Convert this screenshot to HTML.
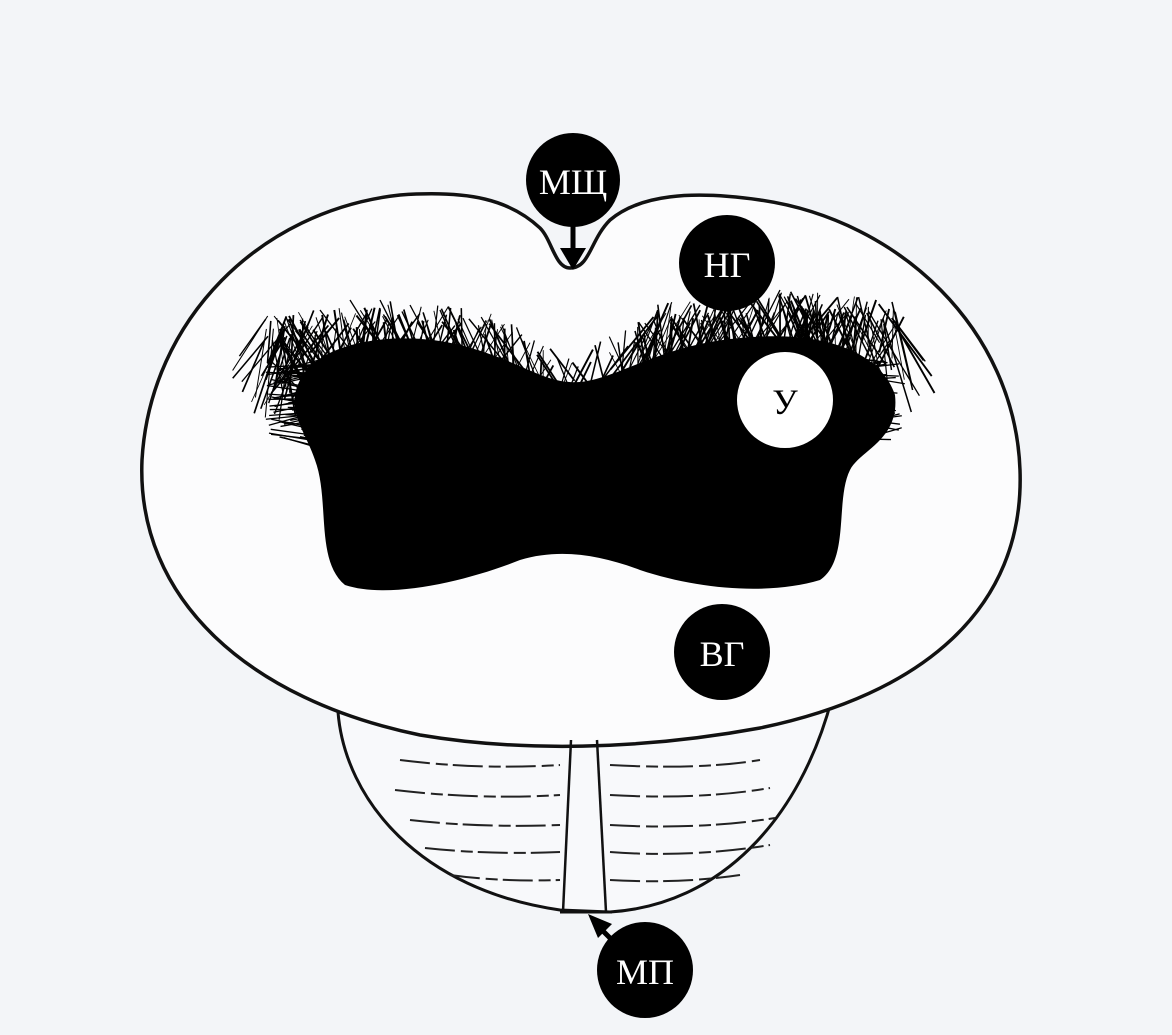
<!DOCTYPE html>
<html><head><meta charset="utf-8"><style>
html,body{margin:0;padding:0;background:#f3f5f8;}
svg{display:block}
text{font-family:"Liberation Serif",serif;}
</style></head><body>
<svg id="s" width="1172" height="1035" viewBox="0 0 1172 1035" xmlns="http://www.w3.org/2000/svg">
<rect width="1172" height="1035" fill="#f3f5f8"/>
<path d="M338 712 C345 800 420 890 560 910 L610 912 C720 905 800 820 832 698" fill="#f8f9fb" stroke="#111" stroke-width="3"/>
<line x1="560" y1="912" x2="612" y2="912" stroke="#111" stroke-width="3"/>
<path d="M540 228 C510 200 470 190 400 195 C260 210 150 320 142 460 C136 600 250 700 420 735 C520 752 640 750 760 728 C920 695 1025 610 1020 470 C1015 330 900 220 760 200 C690 190 640 195 610 220 C590 240 590 268 570 268 C555 268 552 240 540 228 Z" fill="#fcfcfd" stroke="#111" stroke-width="3.5"/>
<line x1="571" y1="740" x2="563" y2="912" stroke="#111" stroke-width="2.5"/>
<line x1="597" y1="740" x2="606" y2="912" stroke="#111" stroke-width="2.5"/>
<g stroke="#222" stroke-width="2" fill="none" stroke-dasharray="30 6 12 5">
<path d="M400 760 Q480 770 560 765"/><path d="M610 765 Q700 770 760 760"/>
<path d="M395 790 Q480 800 560 795"/><path d="M610 795 Q700 800 770 788"/>
<path d="M410 820 Q480 828 560 825"/><path d="M610 825 Q700 830 775 818"/>
<path d="M425 848 Q490 855 560 852"/><path d="M610 852 Q690 858 770 845"/>
<path d="M450 875 Q500 882 560 880"/><path d="M610 880 Q680 884 740 875"/>
</g>
<g id="hair" stroke="#000" stroke-width="1.3" fill="none">
<path d="M270 360 L330 420"/><path d="M280 340 L340 410"/><path d="M300 320 L360 400"/><path d="M320 310 L380 390"/>
<path d="M350 300 L400 380"/><path d="M380 300 L420 380"/><path d="M410 305 L450 380"/><path d="M440 310 L470 380"/>
<path d="M660 330 L630 380"/><path d="M700 305 L660 370"/><path d="M740 295 L700 360"/>
<path d="M780 290 L750 350"/><path d="M820 295 L790 350"/><path d="M860 310 L830 370"/><path d="M890 340 L850 400"/>
</g>
<path d="M300 380 C320 340 400 330 460 345 C520 360 545 385 580 382 C620 378 660 345 740 338 C820 330 880 350 895 395 C900 440 860 450 850 470 C835 500 850 560 820 580 C770 595 700 590 640 570 C600 555 560 548 520 560 C470 580 390 600 345 585 C315 560 330 500 315 460 C305 430 285 410 300 380 Z" fill="#000"/>
<circle cx="573" cy="180" r="47" fill="#000"/>
<text x="573" y="194" font-size="36" fill="#fff" text-anchor="middle">МЩ</text>
<line x1="573" y1="222" x2="573" y2="250" stroke="#000" stroke-width="5"/>
<polygon points="560,248 586,248 573,270" fill="#000"/>
<circle cx="727" cy="263" r="48" fill="#000"/>
<text x="727" y="277" font-size="36" fill="#fff" text-anchor="middle">НГ</text>
<circle cx="785" cy="400" r="48" fill="#fff"/>
<text x="785" y="414" font-size="36" fill="#000" text-anchor="middle">У</text>
<circle cx="722" cy="652" r="48" fill="#000"/>
<text x="722" y="666" font-size="36" fill="#fff" text-anchor="middle">ВГ</text>
<circle cx="645" cy="970" r="48" fill="#000"/>
<text x="645" y="984" font-size="36" fill="#fff" text-anchor="middle">МП</text>
<line x1="612" y1="940" x2="600" y2="928" stroke="#000" stroke-width="5"/>
<polygon points="588,914 612,924 598,938" fill="#000"/>
</svg>
<script>
(function(){
var g=document.getElementById('hair'),seed=7;
function r(){seed=(seed*16807)%2147483647;return seed/2147483647;}
function topY(x){ // approx upper boundary of hair zone
 if(x<580) return 300+Math.abs(x-400)*0.12+ (x>500?(x-500)*0.5:0);
 return 290+Math.abs(x-790)*0.1+(x<660?(660-x)*0.5:0);
}
var s='';
for(var i=0;i<420;i++){
 var x=265+r()*640; if(x>520&&x<630&&r()<0.6) continue;
 var y0=topY(x)+r()*25, len=40+r()*60, a=(r()-0.5)*1.4;
 var x2=x+Math.sin(a)*len, y2=y0+Math.cos(a)*len;
 s+='<path d="M'+x.toFixed(1)+' '+y0.toFixed(1)+' L'+x2.toFixed(1)+' '+y2.toFixed(1)+'" stroke-width="'+(0.8+r()*1.2).toFixed(2)+'"/>';
}
for(var j=0;j<60;j++){var yy=360+r()*80,xx=265+r()*40;s+='<path d="M'+xx+' '+yy+' L'+(xx+50)+' '+(yy+(r()-0.5)*30)+'"/>';}
for(var k=0;k<60;k++){var yy2=360+r()*80,xx2=860+r()*45;s+='<path d="M'+xx2+' '+yy2+' L'+(xx2-50)+' '+(yy2+(r()-0.5)*30)+'"/>';}
g.innerHTML+=s;
})();
</script>
</body></html>
